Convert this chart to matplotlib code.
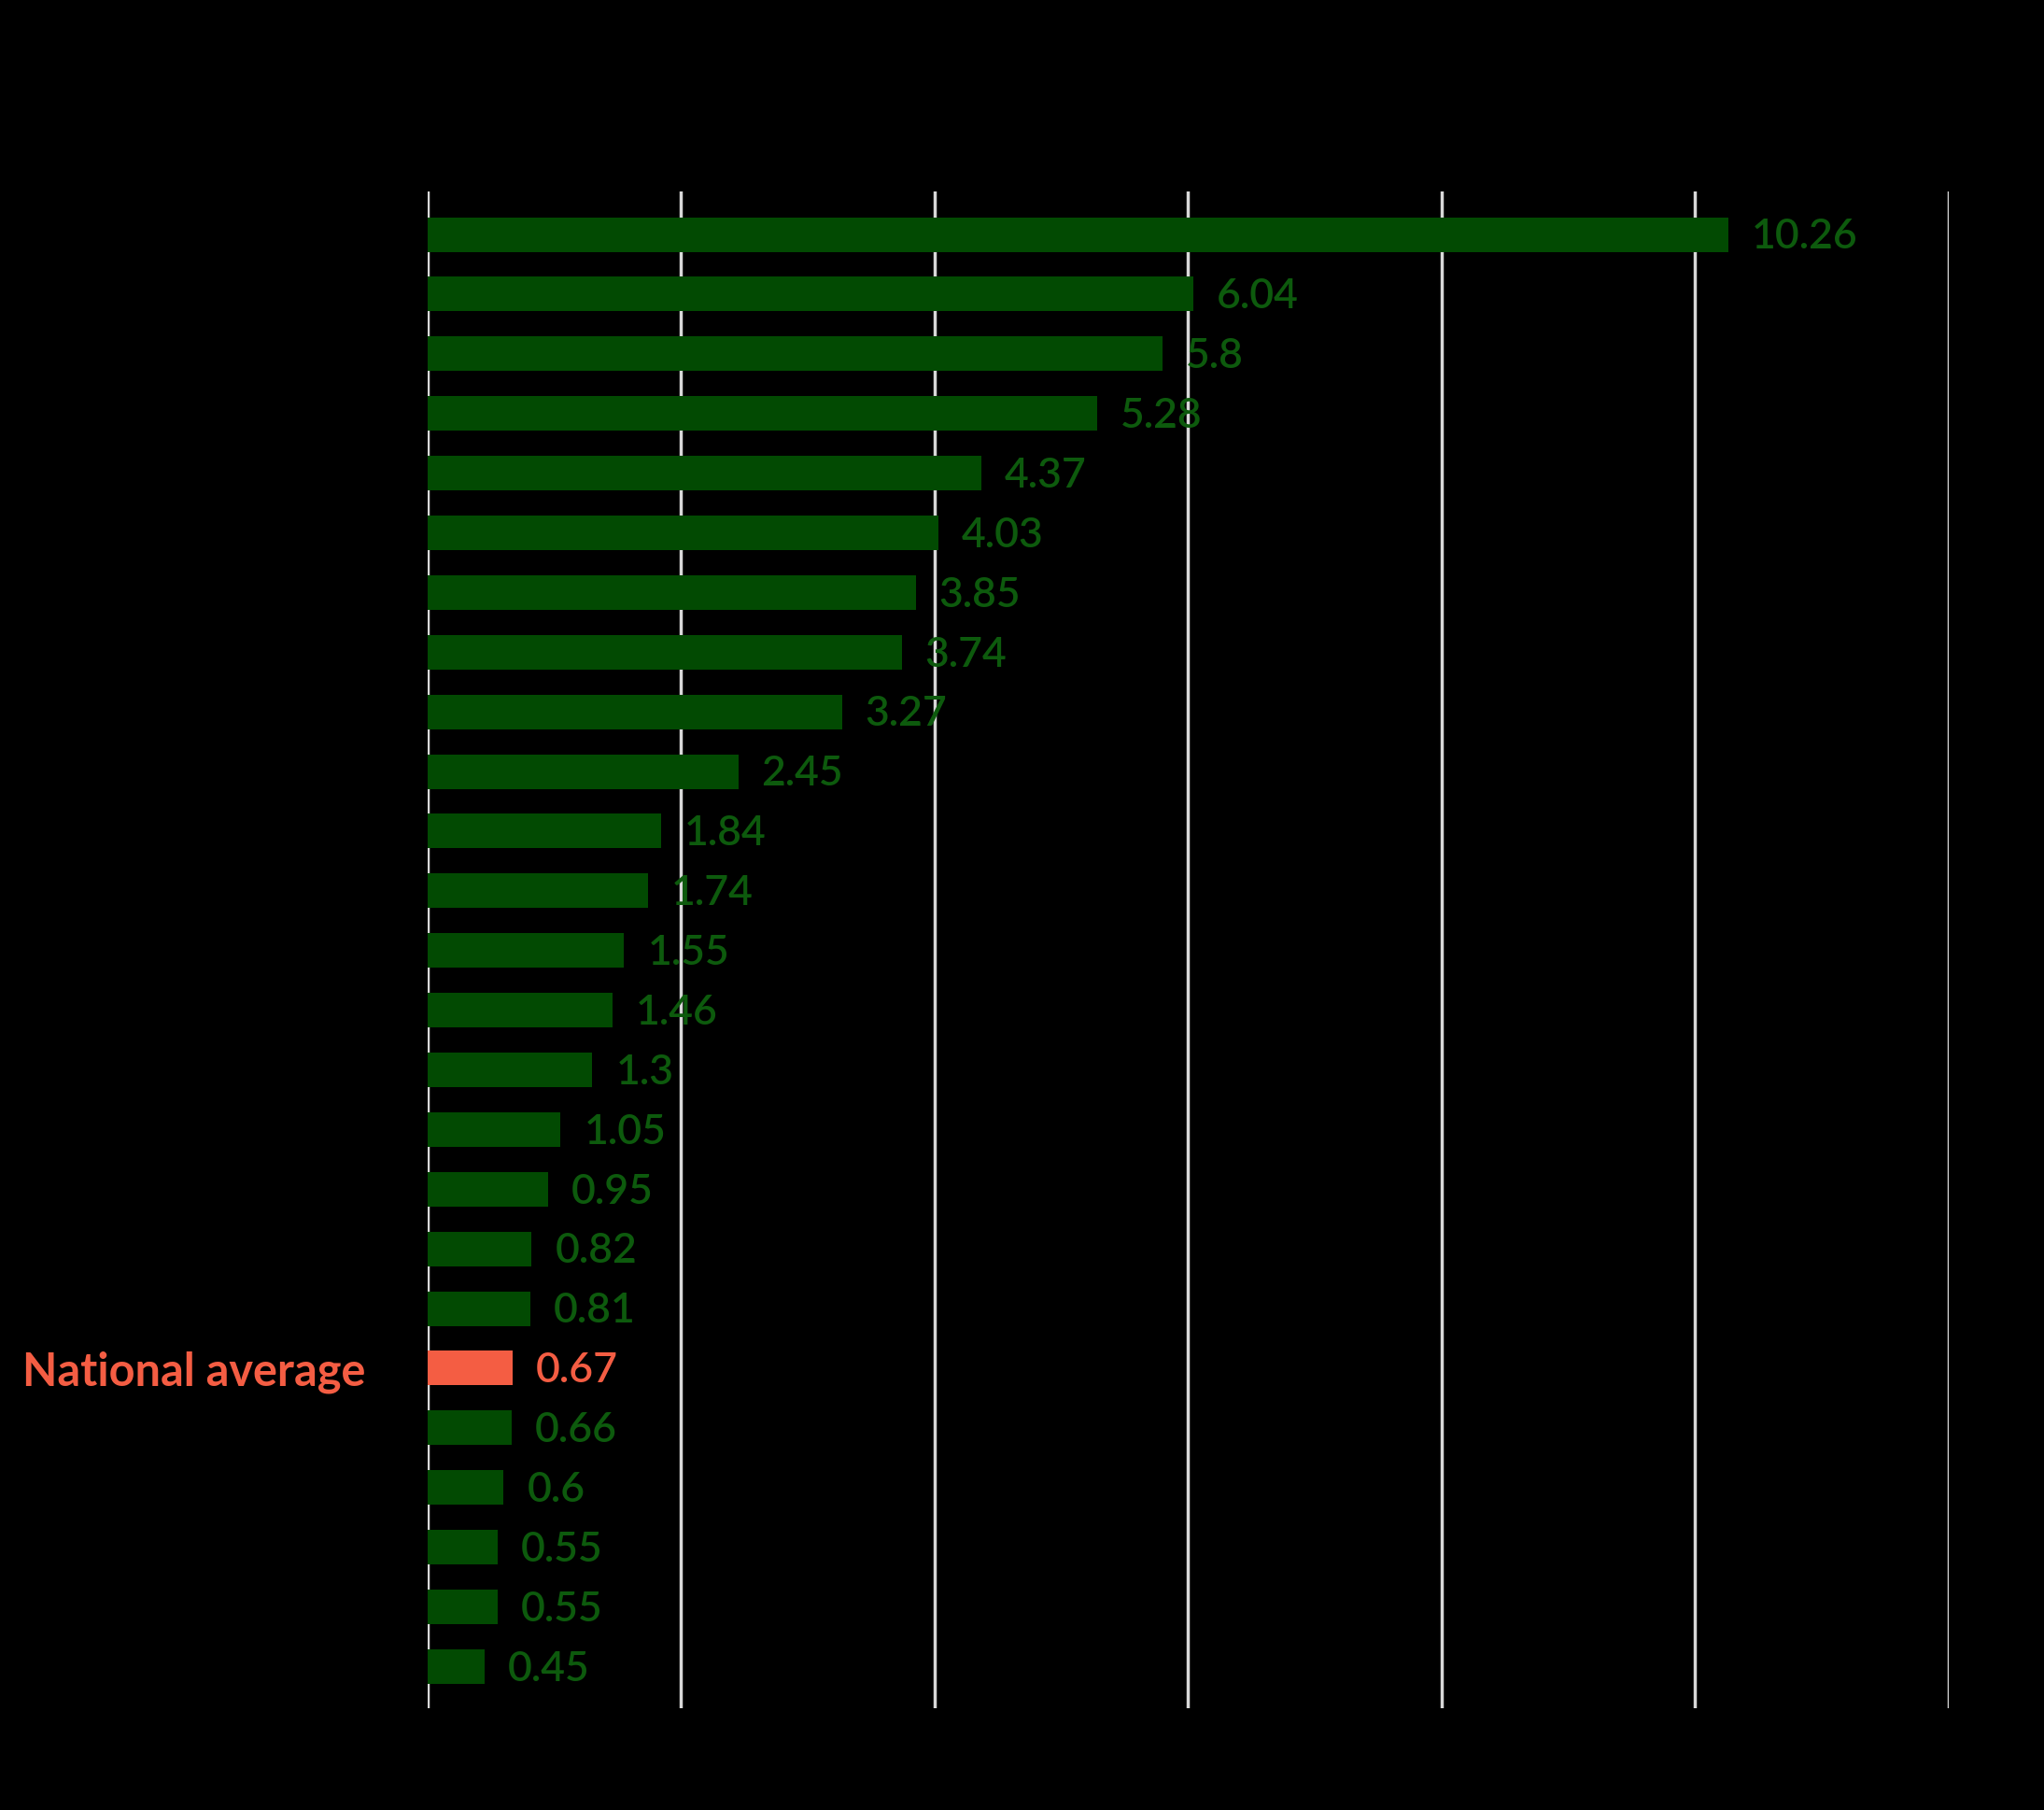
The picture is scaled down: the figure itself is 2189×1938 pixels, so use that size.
import numpy as np
import matplotlib
matplotlib.use("Agg")
import matplotlib.pyplot as plt

plt.rcParams['font.family'] = ['Lato', 'DejaVu Sans']

# values, top to bottom
values = [10.26, 6.04, 5.8, 5.28, 4.37, 4.03, 3.85, 3.74, 3.27, 2.45,
          1.84, 1.74, 1.55, 1.46, 1.3, 1.05, 0.95, 0.82, 0.81, 0.67,
          0.66, 0.6, 0.55, 0.55, 0.45]
value_labels = ["10.26", "6.04", "5.8", "5.28", "4.37", "4.03", "3.85", "3.74",
                "3.27", "2.45", "1.84", "1.74", "1.55", "1.46", "1.3", "1.05",
                "0.95", "0.82", "0.81", "0.67", "0.66", "0.6", "0.55", "0.55",
                "0.45"]
highlight = 19  # national average row
highlight_name = "National average"
x_ticks = [0, 2, 4, 6, 8, 10, 12]

green = "#024a02"
green_text = "#0d5a0d"
red = "#f45d43"

fig = plt.figure(figsize=(21.89, 19.38), dpi=100, facecolor="black")
ax = fig.add_axes([0.2092, 0.0562, 0.9534 - 0.2092, 0.8942 - 0.0562])
ax.set_facecolor("black")

y = np.arange(len(values))
colors = [red if i == highlight else green for i in y]
ax.barh(y, values, height=0.58, color=colors, zorder=3)

for i, (v, lab) in enumerate(zip(values, value_labels)):
    ax.annotate(lab, (v, i), xytext=(18, -2), textcoords="offset points",
                ha="left", va="center", fontsize=32, fontweight="semibold",
                color=red if i == highlight else green_text, zorder=4)

ax.set_xlim(0, 12)
ax.set_ylim(len(values) - 1 + 0.7, -0.72)
ax.set_xticks(x_ticks)
ax.xaxis.grid(True, color="#d8d8d8", linewidth=2.5, zorder=1)
ax.tick_params(axis="x", length=0)
ax.set_xticklabels([])

ax.set_yticks([highlight])
ax.set_yticklabels([highlight_name], fontsize=35, fontweight="bold", color=red)
ax.tick_params(axis="y", length=0, pad=48)

for s in ax.spines.values():
    s.set_visible(False)

fig.savefig("out.png", dpi=100, facecolor="black")
